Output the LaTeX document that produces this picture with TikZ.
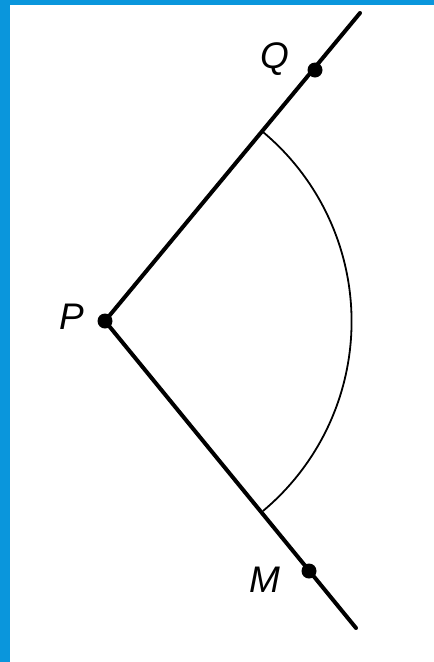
\documentclass[tikz,border=0pt]{standalone}
\usepackage{fontspec}
\setmainfont{Liberation Sans}
\definecolor{frameblue}{RGB}{10,150,220}
\begin{document}
\begin{tikzpicture}[x=1pt,y=-1pt,
  ray/.style={line width=4pt},
  dot/.style={circle,fill=black,inner sep=0pt,minimum size=15pt},
  lab/.style={font=\fontsize{37}{37}\selectfont\itshape,inner sep=0pt}]
\useasboundingbox (0,0) rectangle (434,662);
\fill[white] (0,0) rectangle (434,662);
\fill[frameblue] (0,0) rectangle (434,5);
\fill[frameblue] (0,0) rectangle (10,662);
\coordinate (P) at (105,321);
\coordinate (Qend) at (360,13);
\coordinate (Mend) at (356,628);
\node[dot] (Pd) at (P) {};
\node[dot] (Qd) at (315,70) {};
\node[dot] (Md) at (309,571) {};
\draw[ray,line cap=round] (P) -- (Qend);
\draw[ray,line cap=round] (P) -- (Mend);
\draw[line width=1.8pt] (263,132) arc[start angle=50.1,end angle=-50.1,radius=247pt];
\node[lab] (Ql) at (275,59) {Q};
\node[lab] (Pl) at (72,317) {P};
\node[lab] (Ml) at (265,580) {M};
\end{tikzpicture}
\end{document}
